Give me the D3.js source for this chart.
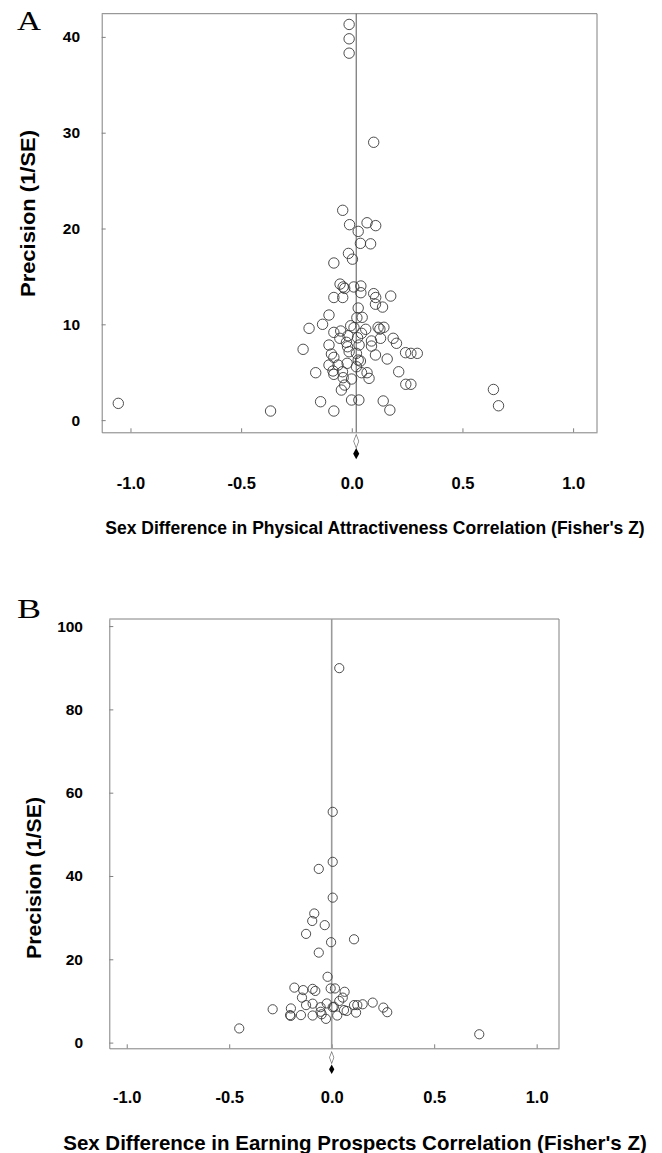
<!DOCTYPE html>
<html><head><meta charset="utf-8">
<script src="https://cdn.jsdelivr.net/npm/d3@7"></script>
<style>body{margin:0;background:#fff}svg{display:block}</style>
</head><body>
<script>
// Panel A: Physical attractiveness
const aZ = [-0.012,-0.012,-0.012,0.099,
 -0.041,-0.010,0.069,0.108,0.029,0.039,0.085,-0.015,0.003,-0.081,-0.053,-0.039,-0.032,0.009,0.041,0.041,-0.081,-0.041,0.099,0.108,0.176,0.029,0.107,0.139,
 -0.103,0.023,0.047,-0.193,-0.132,-0.081,-0.050,-0.005,0.010,0.063,0.119,0.145,0.127,0.044,-0.054,-0.017,0.026,-0.024,0.089,0.130,0.187,0.202,
 -0.220,-0.103,-0.019,0.033,0.089,-0.012,-0.092,-0.081,0.021,0.107,0.243,0.267,0.296,0.160,0.029,0.039,-0.103,-0.062,-0.021,0.021,
 -0.163,-0.085,-0.042,-0.081,0.044,0.069,0.078,0.212,-0.039,-0.001,-0.032,-0.047,0.244,0.267,-0.141,-0.001,0.032,0.142,-0.081,0.172,
 -0.367,-1.055,0.640,0.663];
const aPrec = [41.3,39.8,38.3,29.0,
 21.9,20.4,20.6,20.3,19.7,18.45,18.4,17.4,16.8,16.4,14.2,13.9,13.75,13.9,14.0,13.3,12.8,12.8,13.2,12.8,12.95,11.7,12.1,11.8,
 10.97,10.69,10.73,9.58,10.0,9.16,9.3,9.85,9.65,9.48,9.69,9.69,9.5,9.06,8.54,8.81,8.6,8.12,8.26,8.54,8.54,8.02,
 7.39,7.84,7.66,7.84,7.73,7.14,6.9,6.55,6.97,6.8,7.04,6.97,6.97,6.38,6.27,6.17,5.75,5.75,5.93,5.57,
 4.95,5.13,5.05,4.78,4.95,4.95,4.36,5.05,4.43,4.29,3.66,3.14,3.74,3.74,1.92,2.1,2.1,2.0,0.95,1.05,
 0.95,1.75,3.2,1.5];
const aMean = 0.02;
const aDiamondPrec = [-2.2, -3.5];   // open (fixed), filled (random) summary
// Panel B: Earning prospects
const bZ = [0.037,0.005,0.005,-0.063,0.005,-0.085,-0.095,-0.034,-0.125,0.109,-0.003,-0.063,-0.020,
 -0.451,0.72,
 -0.182,-0.139,-0.145,-0.093,-0.080,-0.005,0.016,0.063,0.054,0.037,-0.125,-0.093,-0.054,-0.024,0.005,0.011,0.060,0.073,0.109,0.125,0.151,0.200,0.252,0.271,0.119,
 -0.288,-0.199,-0.203,-0.200,-0.150,-0.093,-0.054,-0.049,-0.028,0.027];
const bPrec = [89.9,55.4,43.4,41.7,34.8,31.0,29.2,28.2,26.1,24.8,24.1,21.6,15.8,
 3.4,2.0,
 13.2,12.6,10.8,12.9,12.4,13.0,13.0,12.2,10.8,10.0,9.0,9.35,8.5,9.4,8.5,8.6,7.8,7.6,9.0,9.0,9.2,9.6,8.4,7.3,7.2,
 8.0,8.2,6.6,6.4,6.6,6.5,7.4,6.8,5.7,6.5];
const bMean = 0.0;
const bDiamondPrec = [-3.6, -6.4];
const xTicks = [-1.0, -0.5, 0.0, 0.5, 1.0];
const aYTicks = [0, 10, 20, 30, 40];
const bYTicks = [0, 20, 40, 60, 80, 100];
const aTitle = "Sex Difference in Physical Attractiveness Correlation (Fisher's Z)";
const bTitle = "Sex Difference in Earning Prospects Correlation (Fisher's Z)";
const yTitle = "Precision (1/SE)";

const W = 662, H = 1153;
const svg = d3.select("body").append("svg").attr("width", W).attr("height", H);
svg.append("rect").attr("width", W).attr("height", H).attr("fill", "#fff");
const SANS = "'Liberation Sans', Arial, Helvetica, sans-serif";

function panel(cfg) {
  const g = svg.append("g");
  const x = d3.scaleLinear().domain(cfg.xDom).range(cfg.xRange);
  const y = d3.scaleLinear().domain(cfg.yDom).range(cfg.yRange);
  const [x0, x1] = cfg.xRange, [yb, yt] = cfg.yRange;
  // frame top & right
  g.append("path").attr("d", `M${x0},${yt}H${x1}V${yb}`).attr("fill", "none").attr("stroke", "#808080").attr("stroke-width", 1);
  // x axis
  const xa = g.append("g").attr("transform", `translate(0,${yb})`)
    .call(d3.axisBottom(x).tickValues(xTicks).tickSizeInner(-4).tickSizeOuter(0)
      .tickPadding(cfg.xPad).tickFormat(d => d.toFixed(1)));
  // y axis
  const ya = g.append("g").attr("transform", `translate(${x0},0)`)
    .call(d3.axisLeft(y).tickValues(cfg.yTicks).tickSizeInner(-4).tickSizeOuter(0)
      .tickPadding(cfg.yPad).tickFormat(d => String(d)));
  [xa, ya].forEach(a => {
    a.select(".domain").attr("stroke", "#808080");
    a.selectAll(".tick line").attr("stroke", "#808080");
    a.selectAll("text").attr("fill", "#000").attr("font-family", SANS).attr("font-weight", "bold");
  });
  xa.selectAll("text").attr("font-size", 16.5);
  ya.selectAll("text").attr("font-size", 15.5);
  // mean line
  g.append("line").attr("x1", x(cfg.mean)).attr("x2", x(cfg.mean))
    .attr("y1", yt).attr("y2", yb).attr("stroke", cfg.lineColor).attr("stroke-width", cfg.lineWidth);
  // points
  g.selectAll("circle.pt").data(cfg.z.map((v, i) => [v, cfg.p[i]])).join("circle")
    .attr("class", "pt").attr("cx", d => x(d[0])).attr("cy", d => y(d[1])).attr("r", cfg.r)
    .attr("fill", "none").attr("stroke", "#3a3a3a").attr("stroke-width", 0.9);
  // diamonds
  const dia = d3.symbol().type(d3.symbolDiamond).size(cfg.diaSize)();
  g.append("path").attr("d", dia)
    .attr("transform", `translate(${x(cfg.mean)},${y(cfg.dia[0])}) scale(0.75,1.15)`)
    .attr("fill", "#fff").attr("stroke", "#777").attr("stroke-width", 0.9);
  g.append("path").attr("d", dia)
    .attr("transform", `translate(${x(cfg.mean)},${y(cfg.dia[1])}) scale(0.9,0.95)`)
    .attr("fill", "#000");
  // titles
  g.append("text").attr("x", cfg.titleX).attr("y", cfg.titleY).attr("text-anchor", "middle")
    .attr("font-family", SANS).attr("font-weight", "bold").attr("font-size", cfg.titleSize)
    .text(cfg.title);
  g.append("text").attr("transform", `translate(${cfg.yTitleX},${cfg.yTitleY}) rotate(-90)`)
    .attr("text-anchor", "middle").attr("font-family", SANS).attr("font-weight", "bold")
    .attr("font-size", 19.5).attr("textLength", cfg.yTitleLen).attr("lengthAdjust", "spacingAndGlyphs")
    .text(yTitle);
  g.append("text").attr("x", 17).attr("y", cfg.labelY)
    .attr("font-family", "'Liberation Serif', 'Times New Roman', serif").attr("font-size", 27)
    .attr("textLength", 24).attr("lengthAdjust", "spacingAndGlyphs").text(cfg.label);
}

panel({
  xDom: [-1.13, 1.108], xRange: [101.7, 597],
  yDom: [-1.27, 42.42], yRange: [432.3, 13.7],
  yTicks: aYTicks, xPad: 44.7, yPad: 21.7,
  mean: aMean, lineColor: "#555", lineWidth: 1,
  z: aZ, p: aPrec, r: 5.2, dia: aDiamondPrec, diaSize: 40,
  title: aTitle, titleX: 375, titleY: 534, titleSize: 17.5,
  yTitleX: 35, yTitleY: 213.5, yTitleLen: 167, label: "A", labelY: 30
});
panel({
  xDom: [-1.085, 1.109], xRange: [109.3, 559],
  yDom: [-1.37, 101.7], yRange: [1048.3, 619],
  yTicks: bYTicks, xPad: 43, yPad: 26.3,
  mean: bMean, lineColor: "#9a9a9a", lineWidth: 1.6,
  z: bZ, p: bPrec, r: 4.6, dia: bDiamondPrec, diaSize: 30,
  title: bTitle, titleX: 355, titleY: 1150, titleSize: 20.5,
  yTitleX: 41, yTitleY: 878, yTitleLen: 162, label: "B", labelY: 618
});
</script>
</body></html>
